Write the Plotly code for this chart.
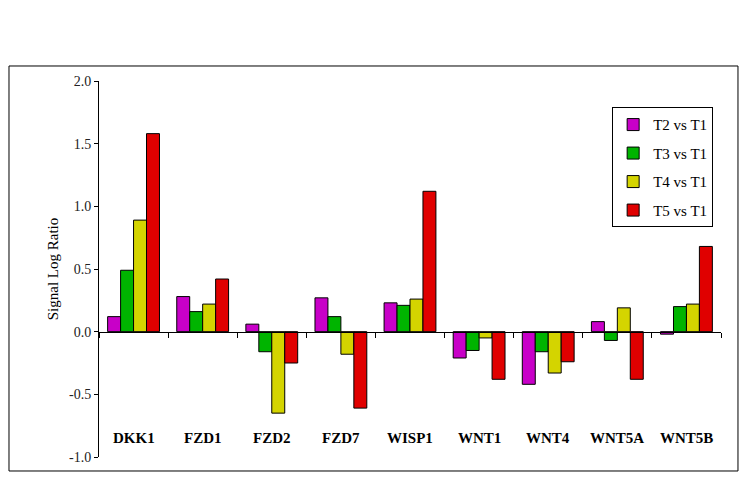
import plotly.graph_objects as go

# genes on the x axis
genes = ["DKK1", "FZD1", "FZD2", "FZD7", "WISP1", "WNT1", "WNT4", "WNT5A", "WNT5B"]

# signal log ratio for each comparison
t2_vs_t1 = [0.12, 0.28, 0.06, 0.27, 0.23, -0.21, -0.42, 0.08, -0.02]
t3_vs_t1 = [0.49, 0.16, -0.16, 0.12, 0.21, -0.15, -0.16, -0.07, 0.20]
t4_vs_t1 = [0.89, 0.22, -0.65, -0.18, 0.26, -0.05, -0.33, 0.19, 0.22]
t5_vs_t1 = [1.58, 0.42, -0.25, -0.61, 1.12, -0.38, -0.24, -0.38, 0.68]

series_names = ["T2 vs T1", "T3 vs T1", "T4 vs T1", "T5 vs T1"]
series_values = [t2_vs_t1, t3_vs_t1, t4_vs_t1, t5_vs_t1]
colors = ["#C800C8", "#00B400", "#D4D400", "#E00000"]

y_ticks = [2.0, 1.5, 1.0, 0.5, 0.0, -0.5, -1.0]
y_min, y_max = -1.0, 2.0

FONT = "Liberation Serif, Times New Roman, serif"

fig = go.Figure()
for name, vals, col in zip(series_names, series_values, colors):
    fig.add_trace(go.Bar(
        x=genes, y=vals, name=name, legendgroup=name,
        marker=dict(color=col, line=dict(color="black", width=1)),
    ))

# gene names sit inside the plot near the bottom
for g in genes:
    fig.add_annotation(x=g, y=-0.845, xref="x", yref="y", text="<b>%s</b>" % g,
                       showarrow=False, font=dict(family=FONT, size=15, color="black"))

# outer frame around the whole chart
fig.add_shape(type="rect", xref="paper", yref="paper",
              x0=-0.1447, x1=1.0273, y0=-0.0372, y1=1.0399,
              line=dict(color="black", width=1), layer="below")

# page body adds 8px, so the figure is 8px smaller than the window
fig.update_layout(
    width=741, height=473,
    margin=dict(l=91, r=28, t=73, b=24),
    paper_bgcolor="white", plot_bgcolor="white",
    barmode="group", bargap=0.25, bargroupgap=0,
    font=dict(family=FONT, size=13, color="black"),
    showlegend=True,
    legend=dict(x=0.825, y=0.93, xanchor="left", yanchor="top",
                bgcolor="white", bordercolor="black", borderwidth=1,
                font=dict(family=FONT, size=15), tracegroupgap=6,
                itemwidth=30),
    xaxis=dict(anchor="free", position=(0 - y_min) / (y_max - y_min),
               showticklabels=False, showline=True, linecolor="black", linewidth=1,
               ticks="outside", ticklen=5, tickcolor="black", tickson="boundaries",
               showgrid=False, zeroline=False),
    yaxis=dict(range=[y_min, y_max], tickvals=y_ticks,
               ticktext=["%.1f" % v for v in y_ticks],
               showline=True, linecolor="black", linewidth=1,
               ticks="outside", ticklen=4, tickcolor="black",
               tickfont=dict(family=FONT, size=14, color="#222"),
               showgrid=False, zeroline=False,
               title=dict(text="Signal Log Ratio", standoff=6,
                          font=dict(family=FONT, size=15))),
)

fig.write_html("out.html")
